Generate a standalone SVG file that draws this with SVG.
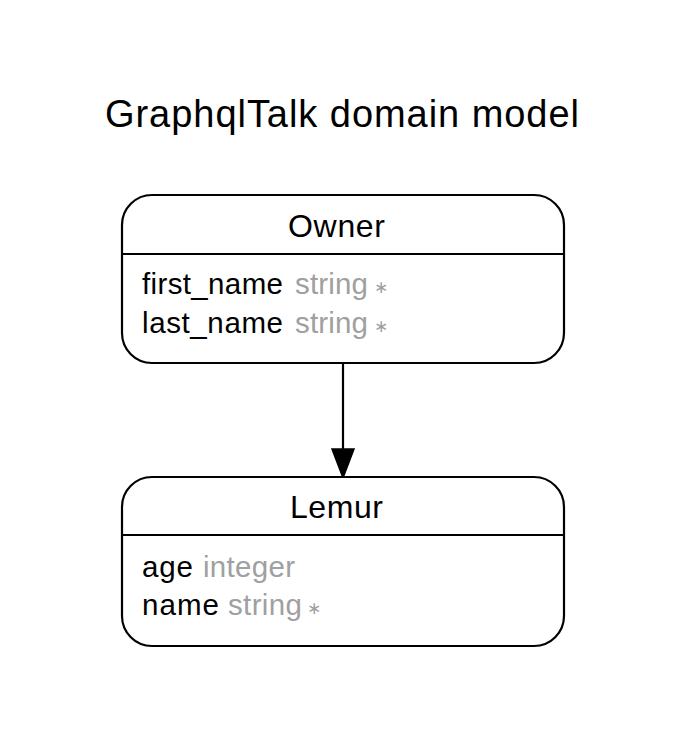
<svg xmlns="http://www.w3.org/2000/svg" width="678" height="729" viewBox="0 0 678 729">
<style>
text{font-family:"Liberation Sans",Arial,Helvetica,sans-serif;fill:#000}
.title{font-size:38px}
.name{font-size:32px}
.f{font-size:29.5px}
.t{fill:#a0a0a0}
.ast{font-size:17px;fill:#a0a0a0;font-family:"DejaVu Sans",sans-serif}
.box{fill:#fff;stroke:#000;stroke-width:2.2}
.div{stroke:#000;stroke-width:2.2}
</style>
<rect width="678" height="729" fill="#fff"/>
<text class="title" x="105" y="127" textLength="474" lengthAdjust="spacing">GraphqlTalk domain model</text>
<g id="connectors">
<line x1="343" y1="363" x2="343" y2="450" stroke="#000" stroke-width="2.2"/>
<polygon points="332,449 354,449 343,478" fill="#000" stroke="#000" stroke-width="1.5"/>
</g>
<g id="Owner">
<rect class="box" x="122" y="195" width="442" height="168" rx="30" ry="30"/>
<line class="div" x1="122" y1="254" x2="564" y2="254"/>
<text class="name" x="288" y="237" textLength="97" lengthAdjust="spacing">Owner</text>
<text class="f" x="142" y="294" textLength="141" lengthAdjust="spacing">first_name</text>
<text class="f t" x="295" y="294" textLength="73" lengthAdjust="spacing">string</text>
<text class="ast" x="374" y="293">∗</text>
<text class="f" x="142" y="333" textLength="141" lengthAdjust="spacing">last_name</text>
<text class="f t" x="295" y="333" textLength="73" lengthAdjust="spacing">string</text>
<text class="ast" x="374" y="332">∗</text>
</g>
<g id="Lemur">
<rect class="box" x="122" y="477" width="442" height="169" rx="30" ry="30"/>
<line class="div" x1="122" y1="535" x2="564" y2="535"/>
<text class="name" x="290" y="518" textLength="93" lengthAdjust="spacing">Lemur</text>
<text class="f" x="142" y="577" textLength="51" lengthAdjust="spacing">age</text>
<text class="f t" x="203" y="577" textLength="92" lengthAdjust="spacing">integer</text>
<text class="f" x="142" y="615" textLength="77" lengthAdjust="spacing">name</text>
<text class="f t" x="228" y="615" textLength="74" lengthAdjust="spacing">string</text>
<text class="ast" x="307" y="614">∗</text>
</g>
</svg>
